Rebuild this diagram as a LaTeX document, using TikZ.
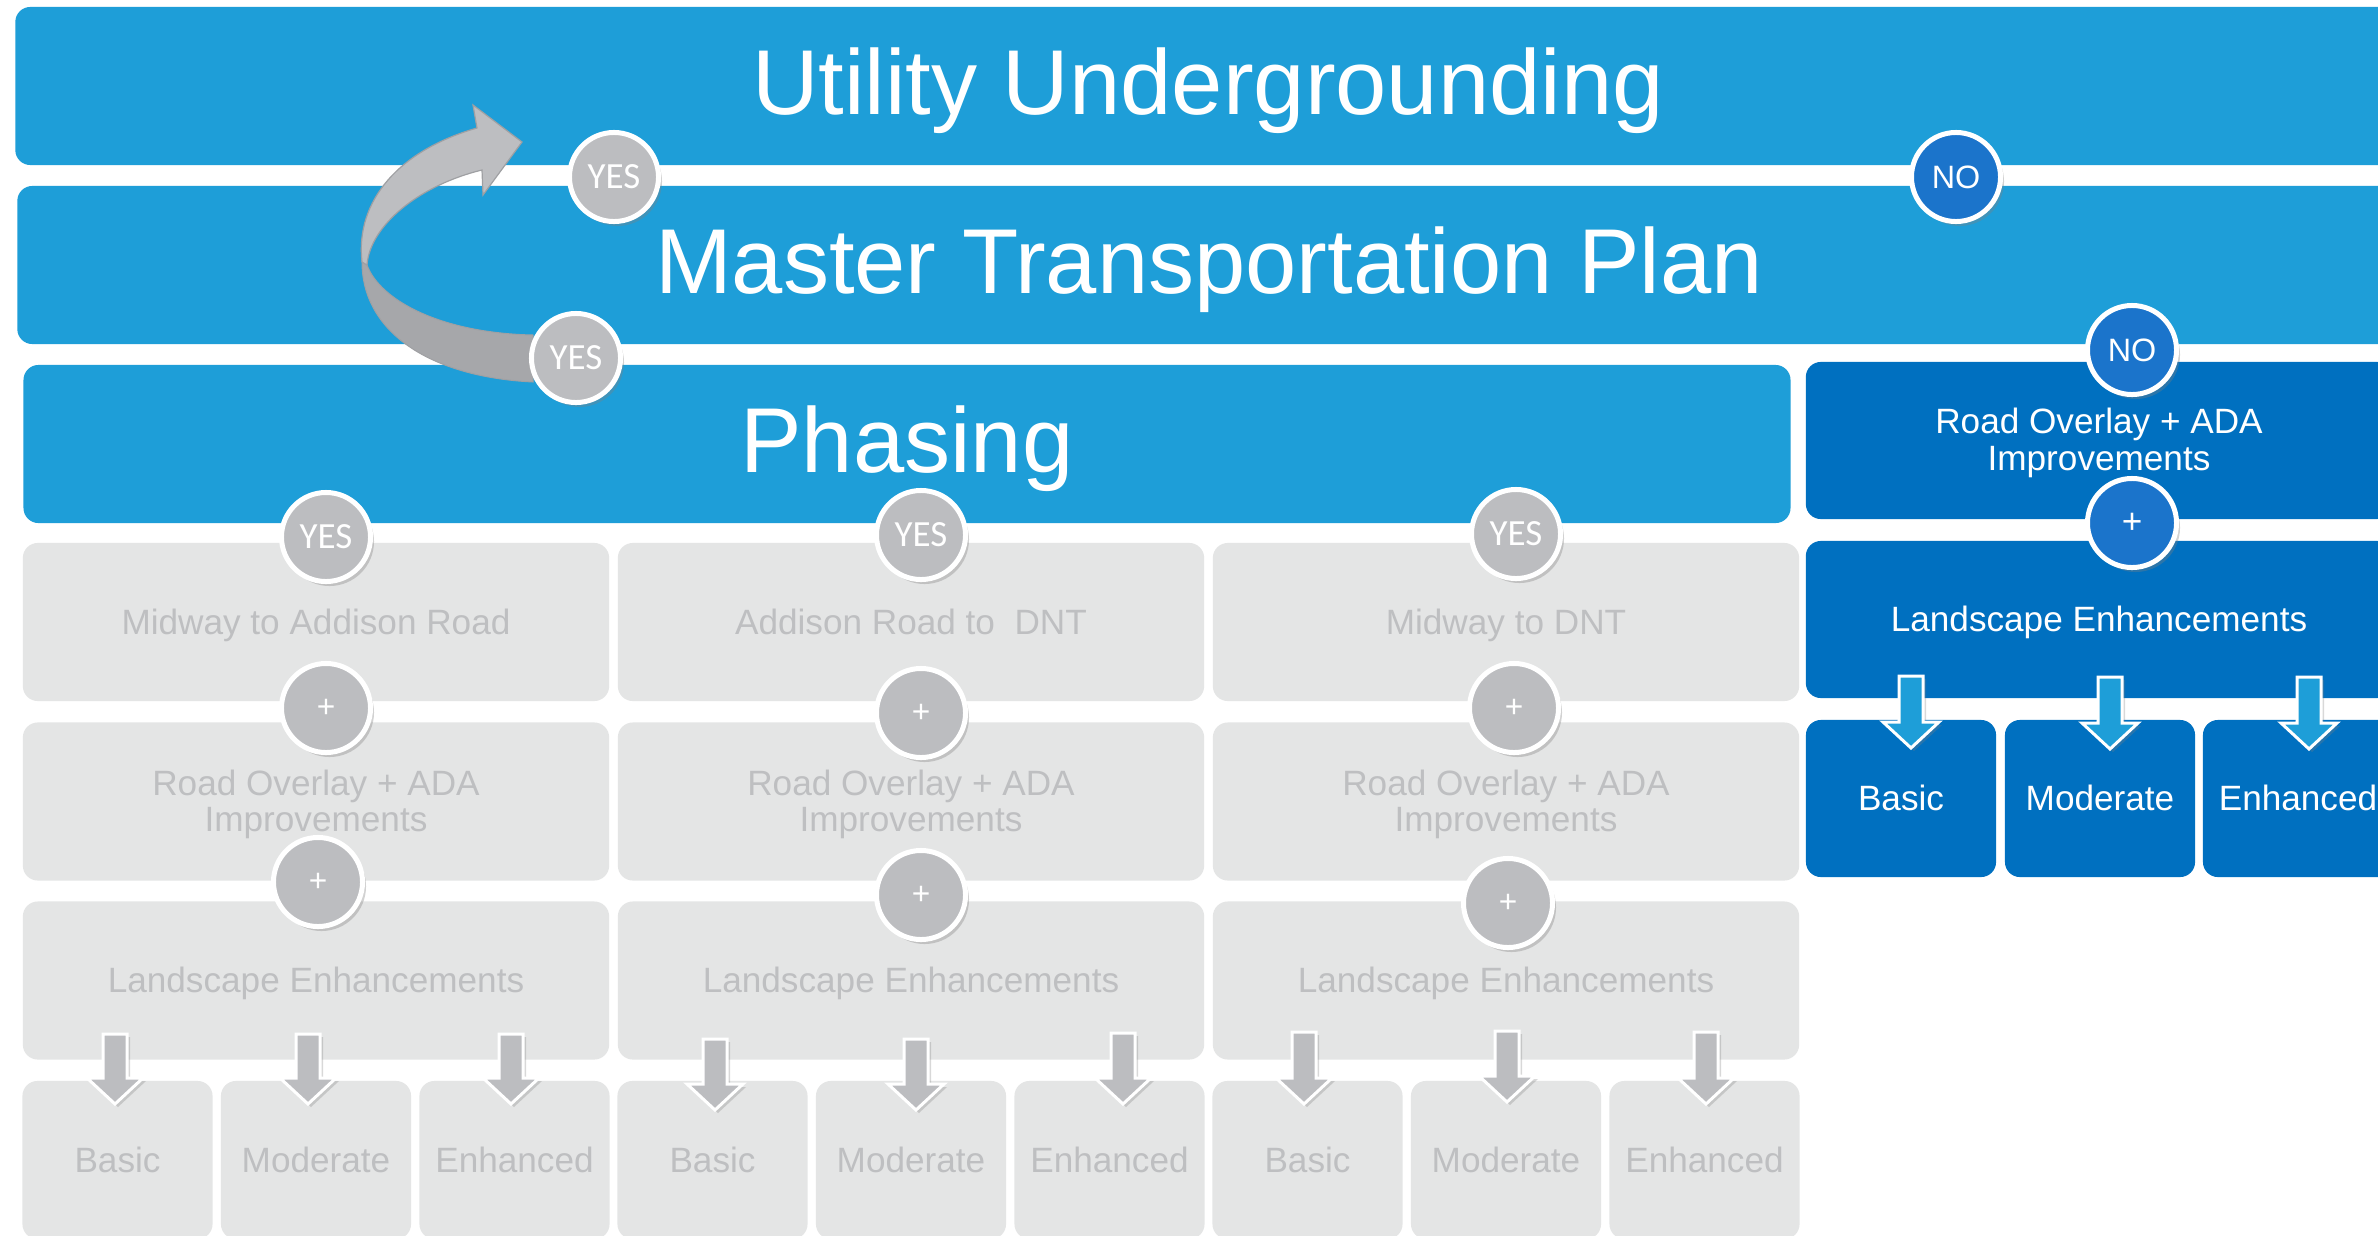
\documentclass[tikz,border=0pt]{standalone}
\usepackage{fontspec}
\setmainfont{Liberation Sans}
\newfontfamily\yesfont{Carlito}
\usetikzlibrary{shadows}
\definecolor{bandblue}{HTML}{1E9ED8}
\definecolor{darkblue}{HTML}{0070C0}
\definecolor{noblue}{HTML}{1B74CB}
\definecolor{boxgray}{HTML}{E4E5E5}
\definecolor{txtgray}{HTML}{BEBFC1}
\definecolor{circgray}{HTML}{BCBDC0}
\definecolor{ribbonlight}{HTML}{BDBEC1}
\definecolor{ribbondark}{HTML}{A6A7AA}
\definecolor{ribbonedge}{HTML}{9FA0A3}
\tikzset{
 band/.style={rectangle, rounded corners=0.15cm, fill=bandblue, text=white, inner sep=0pt, text height=21.7pt, text depth=5.5pt, font=\fontsize{26.2}{30}\selectfont},
 darkbox/.style={rectangle, rounded corners=0.15cm, fill=darkblue, text=white, inner sep=0pt, align=center, font=\fontsize{10}{10.3}\selectfont},
 graybox/.style={rectangle, rounded corners=0.15cm, fill=boxgray, text=txtgray, inner sep=0pt, align=center, font=\fontsize{10}{10.3}\selectfont},
 oneline/.style={text height=9pt, text depth=2pt},
 boxtext/.style={inner sep=0pt, align=center, font=\fontsize{10}{10.3}\selectfont},
 badge/.style={circle, draw=white, line width=0.05cm, minimum size=0.89cm, inner sep=0pt, text=white, drop shadow={opacity=0.35, shadow xshift=0.035cm, shadow yshift=-0.045cm}},
 yesbadge/.style={badge, fill=circgray, font=\yesfont\fontsize{10.5}{12}\selectfont},
 nobadge/.style={badge, fill=noblue, font=\fontsize{9.2}{11}\selectfont},
 plusgray/.style={badge, fill=circgray, font=\fontsize{9}{11}\selectfont},
 plusblue/.style={badge, fill=noblue, font=\fontsize{10}{11}\selectfont},
 blockarr/.style={draw=white, line width=0.03cm, drop shadow={opacity=0.3, shadow xshift=0.03cm, shadow yshift=-0.03cm}},
}
\newcommand{\blockarrow}[4]{%
 \path[blockarr, fill=#4] ({#1-12},#2) -- ({#1+12},#2) -- ({#1+12},{#3-26}) -- ({#1+28},{#3-26}) -- (#1,#3) -- ({#1-28},{#3-26}) -- ({#1-12},{#3-26}) -- cycle;}
\begin{document}
\begin{tikzpicture}[x=0.01cm, y=-0.01cm]
\useasboundingbox (0,0) rectangle (2378,1236);
\clip (0,0) rectangle (2378,1236);
\fill[white] (0,0) rectangle (2378,1236);
% bands
\node[band, minimum width=23.84cm, minimum height=1.58cm] (util) at (1208,86) {Utility Undergrounding};
\node[band, minimum width=23.82cm, minimum height=1.58cm] (mtp) at (1209,265) {Master Transportation Plan};
\node[band, minimum width=17.66cm, minimum height=1.58cm] (phase) at (907,444) {Phasing};
% right column
\node[darkbox, minimum width=5.86cm, minimum height=1.57cm] (roadR) at (2099,440.5) {};
\node[boxtext, text=white] (roadRtxt) at ([yshift=-0.025cm]roadR.center) {Road Overlay + ADA\\Improvements};
\node[darkbox, oneline, minimum width=5.86cm, minimum height=1.57cm] (landR) at (2099,619.5) {Landscape Enhancements};
\node[darkbox, oneline, minimum width=1.90cm, minimum height=1.57cm] (basicR) at (1901,798.5) {Basic};
\node[darkbox, oneline, minimum width=1.90cm, minimum height=1.57cm] (modR) at (2100,798.5) {Moderate};
\node[darkbox, oneline, minimum width=1.90cm, minimum height=1.57cm] (enhR) at (2298,798.5) {Enhanced};
% gray columns
\foreach \c/\cx/\lbl in {a/316/{Midway to Addison Road}, b/911/{Addison Road to\ \ DNT}, c/1506/{Midway to DNT}}{
 \node[graybox, oneline, minimum width=5.86cm, minimum height=1.58cm] (seg\c) at (\cx,622) {\lbl};
 \node[graybox, minimum width=5.86cm, minimum height=1.58cm] (road\c) at (\cx,801.5) {};
 \node[boxtext, text=txtgray] (roadtxt\c) at ([yshift=-0.03cm]road\c.center) {Road Overlay + ADA\\Improvements};
 \node[graybox, oneline, minimum width=5.86cm, minimum height=1.58cm] (land\c) at (\cx,980.5) {Landscape Enhancements};
 \node[graybox, oneline, minimum width=1.90cm, minimum height=1.58cm] (basic\c) at ({\cx-198.5},1160) {Basic};
 \node[graybox, oneline, minimum width=1.90cm, minimum height=1.58cm] (mod\c) at (\cx,1160) {Moderate};
 \node[graybox, oneline, minimum width=1.90cm, minimum height=1.58cm] (enh\c) at ({\cx+198.5},1160) {Enhanced};
}
% curved ribbon arrow
\path[fill=ribbondark, draw=ribbonedge, line width=0.01cm] (362,262) .. controls (362,332) and (430,377) .. (533,382) -- (533,335) .. controls (440,333) and (380,300) .. (367,265) -- cycle;
\path[fill=ribbonlight, draw=ribbonedge, line width=0.012cm] (477,128) .. controls (400,150) and (355,200) .. (362,262) -- (367,265) .. controls (370,225) and (420,185) .. (482,170) -- (483,195) -- (522,142) -- (473,105) -- cycle;
% block arrows
\blockarrow{115}{1034}{1104}{circgray}
\blockarrow{308}{1034}{1104}{circgray}
\blockarrow{511}{1034}{1104}{circgray}
\blockarrow{715}{1039}{1110}{circgray}
\blockarrow{916}{1039}{1110}{circgray}
\blockarrow{1123}{1033}{1104}{circgray}
\blockarrow{1304}{1032}{1104}{circgray}
\blockarrow{1507}{1031}{1102}{circgray}
\blockarrow{1706}{1032}{1104}{circgray}
\blockarrow{1911}{676}{748}{bandblue}
\blockarrow{2110}{677}{749}{bandblue}
\blockarrow{2309}{677}{749}{bandblue}
% badges
\node[yesbadge] (yes1) at (614,177) {YES};
\node[yesbadge] (yes2) at (576,358) {YES};
\node[nobadge] (no1) at (1956,177) {NO};
\node[nobadge] (no2) at (2132,350) {NO};
\node[plusblue] (plusR) at (2132,523) {+};
\node[yesbadge] (yesa) at (326,537) {YES};
\node[yesbadge] (yesb) at (921,535) {YES};
\node[yesbadge] (yesc) at (1516,534) {YES};
\node[plusgray] (p1a) at (326,708) {+};
\node[plusgray] (p1b) at (921,713) {+};
\node[plusgray] (p1c) at (1514,708) {+};
\node[plusgray] (p2a) at (318,882) {+};
\node[plusgray] (p2b) at (921,895) {+};
\node[plusgray] (p2c) at (1508,903) {+};
\end{tikzpicture}
\end{document}
